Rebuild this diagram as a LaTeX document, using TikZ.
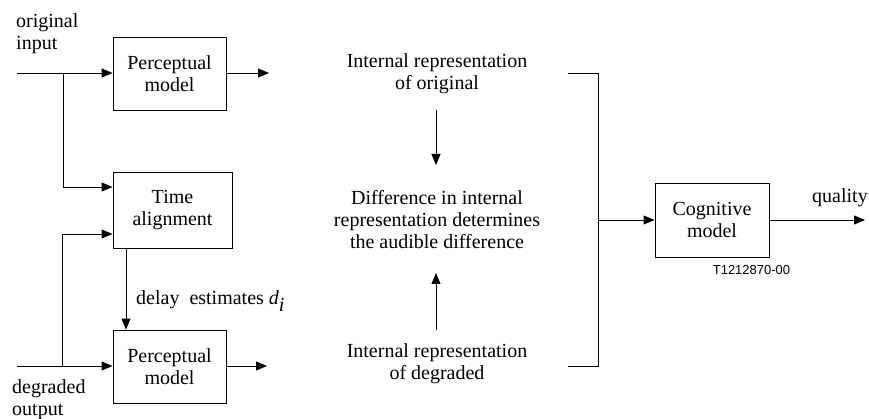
\documentclass[tikz,border=0pt]{standalone}
\usepackage{fontspec}
\setmainfont{Liberation Serif}
\newfontfamily\tagfont{Liberation Sans}
\usetikzlibrary{arrows.meta}
\tikzset{
  blk/.style={draw, line width=0.9pt, inner sep=0pt, align=center, font=\fontsize{20}{22}\selectfont},
  txt/.style={inner sep=0pt, align=center, font=\fontsize{20}{22}\selectfont},
  ln/.style={line width=0.9pt},
  arr/.style={line width=0.9pt, -{Triangle[length=11pt,width=9pt]}},
}
\begin{document}
\begin{tikzpicture}[x=1pt,y=-1pt]
\useasboundingbox (0,0) rectangle (869,419);
% blocks
\node[blk, minimum width=113pt, minimum height=73pt] (pm1) at (169.5,73.5) {Perceptual\\model};
\node[blk, minimum width=119pt, minimum height=76pt] (ta) at (172.5,210) {Time\\alignment};
\node[blk, minimum width=113pt, minimum height=73pt] (pm2) at (169.5,366.5) {Perceptual\\model};
\node[blk, minimum width=114pt, minimum height=74pt] (cog) at (712,220) {Cognitive\\model};
% labels
\node[txt, align=left, anchor=west] (orig) at (16,34) {original\\input};
\node[txt, align=left, anchor=west] (degr) at (12,400) {degraded\\output};
\node[txt, anchor=base west] (delay) at (136,305) {delay\ \ estimates \textit{d}$_{\textit{i}}$};
\node[txt] (io) at (437,74) {Internal representation\\of original};
\node[txt] (diff) at (437,220) {Difference in internal\\representation determines\\the audible difference};
\node[txt] (idg) at (437,364) {Internal representation\\of degraded};
\node[txt, anchor=base west] (qual) at (812,203) {quality};
\node[inner sep=0pt, font=\tagfont\fontsize{13}{14}\selectfont] (tag) at (751.5,270) {T1212870-00};
% coordinates
\coordinate (inO) at (17,73);
\coordinate (brO) at (63,73);
\coordinate (inD) at (17,366);
\coordinate (brD) at (62,366);
\coordinate (o1) at (269,73);
\coordinate (o2) at (267,366);
\coordinate (dT) at (436,110);
\coordinate (dB) at (436,165);
\coordinate (uB) at (436,330);
\coordinate (uT) at (436,273);
\coordinate (bt) at (568,73);
\coordinate (btr) at (598,73);
\coordinate (bb) at (568,366);
\coordinate (bbr) at (598,366);
\coordinate (bm) at (598,220);
\coordinate (qo) at (865,220);
% connectors
\draw[arr] (inO) -- (pm1.west |- inO);
\draw[arr] (brO) |- ([yshift=23pt]ta.west);
\draw[arr] (inD) -- (pm2.west |- inD);
\draw[arr] (brD) |- ([yshift=-24pt]ta.west);
\draw[arr] ([xshift=-46.5pt]ta.south) -- ([xshift=-46.5pt]ta.south |- pm2.north);
\draw[arr] (pm1.east |- o1) -- (o1);
\draw[arr] (pm2.east |- o2) -- (o2);
\draw[arr] (dT) -- (dB);
\draw[arr] (uB) -- (uT);
\draw[ln] (bt) -- (btr) -- (bbr) -- (bb);
\draw[arr] (bm) -- (cog.west);
\draw[arr] (cog.east) -- (qo);
\end{tikzpicture}
\end{document}
